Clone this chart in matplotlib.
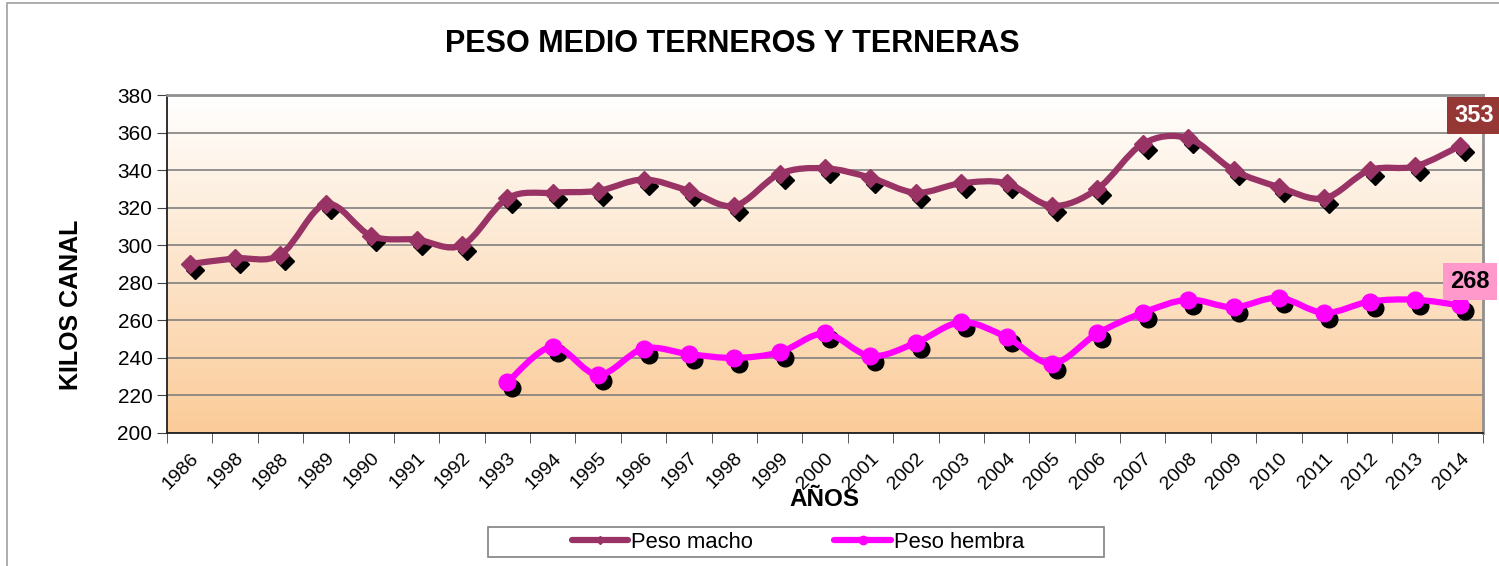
import matplotlib
matplotlib.use("Agg")
import matplotlib.pyplot as plt
import numpy as np
from matplotlib.path import Path
from matplotlib.patches import PathPatch, Rectangle
from matplotlib.lines import Line2D
from matplotlib.transforms import ScaledTranslation

plt.rcParams['font.family'] = ['Liberation Sans', 'DejaVu Sans']

# data (1987 is labelled "1998" in the original)
years = ["1986", "1998", "1988", "1989", "1990", "1991", "1992", "1993", "1994", "1995",
         "1996", "1997", "1998", "1999", "2000", "2001", "2002", "2003", "2004", "2005",
         "2006", "2007", "2008", "2009", "2010", "2011", "2012", "2013", "2014"]
peso_macho = [290, 293, 295, 322, 305, 303, 300, 325, 328, 329,
              335, 329, 321, 338, 341, 336, 328, 333, 333, 321,
              330, 354, 357, 340, 331, 325, 340, 342, 353]
peso_hembra = [None, None, None, None, None, None, None, 227, 246, 231,
               245, 242, 240, 243, 253, 241, 248, 259, 251, 237,
               253, 264, 271, 267, 272, 264, 270, 271, 268]

macho_color = "#993366"
hembra_color = "#FF00FF"


def smooth_path(xs, ys):
    # excel-like smoothed line: catmull-rom segments as cubic bezier curves
    pts = np.column_stack([xs, ys]).astype(float)
    verts = [pts[0]]
    codes = [Path.MOVETO]
    n = len(pts)
    for i in range(n - 1):
        p0 = pts[i - 1] if i > 0 else pts[i]
        p1 = pts[i]
        p2 = pts[i + 1]
        p3 = pts[i + 2] if i + 2 < n else pts[i + 1]
        c1 = p1 + (p2 - p0) / 6.0
        c2 = p2 - (p3 - p1) / 6.0
        verts += [c1, c2, p2]
        codes += [Path.CURVE4] * 3
    return Path(verts, codes)


W, H = 1499, 566
fig = plt.figure(figsize=(W / 100, H / 100), dpi=100)
ax = fig.add_axes([0.1114, 0.235, 0.878, 0.597])

x = np.arange(len(years))
xh = np.array([i for i, v in enumerate(peso_hembra) if v is not None])
yh = np.array([v for v in peso_hembra if v is not None])

# gradient background of the plot area
grad = np.linspace(0, 1, 256).reshape(-1, 1)
top = np.array([1.0, 1.0, 1.0])
bot = np.array([251, 203, 152]) / 255.0
img = top + (bot - top) * grad[..., None] * np.ones((1, 1, 3))
ax.imshow(img, extent=[0, 1, 0, 1], transform=ax.transAxes, aspect="auto", zorder=0)

ax.set_xlim(-0.5, len(years) - 0.5)
ax.set_ylim(200, 380)
ax.set_yticks(np.arange(200, 381, 20))
ax.yaxis.grid(True, color="#808080", lw=1.2)
ax.set_axisbelow(True)

# lines
ax.add_patch(PathPatch(smooth_path(x, peso_macho), fill=False, edgecolor=macho_color,
                       lw=4.5, capstyle="round", joinstyle="round", zorder=3))
ax.add_patch(PathPatch(smooth_path(xh, yh), fill=False, edgecolor=hembra_color,
                       lw=4.5, capstyle="round", joinstyle="round", zorder=3))

# marker shadows
shadow = ax.transData + ScaledTranslation(0.05, -0.06, fig.dpi_scale_trans)
ax.plot(x, peso_macho, ls="none", marker="D", ms=9.5, color="black", transform=shadow, zorder=2)
ax.plot(xh, yh, ls="none", marker="o", ms=12, color="black", transform=shadow, zorder=2)
ax.plot(x, peso_macho, ls="none", marker="D", ms=9.5, color=macho_color, zorder=4)
ax.plot(xh, yh, ls="none", marker="o", ms=12, color=hembra_color, zorder=4)

# last-value labels
ax.annotate(str(peso_macho[-1]), (x[-1], peso_macho[-1]), xytext=(-4.5, 21.5),
            textcoords="offset points", fontsize=17, fontweight="bold", color="white",
            ha="left", va="center", annotation_clip=False, zorder=6,
            bbox=dict(boxstyle="square,pad=0.3", fc="#953735", ec="none"))
ax.annotate(str(peso_hembra[-1]), (x[-1], peso_hembra[-1]), xytext=(7, 17),
            textcoords="offset points", fontsize=17, fontweight="bold", color="black",
            ha="center", va="center", annotation_clip=False, zorder=6,
            bbox=dict(boxstyle="square,pad=0.3", fc="#FF99CC", ec="none"))

# axes styling
ax.set_xticks(x)
ax.set_xticklabels(years, rotation=45, ha="right", va="top", rotation_mode="anchor", fontsize=14)
ax.set_xticks(np.arange(-0.5, len(years)), minor=True)
ax.tick_params(axis="x", which="major", length=0, pad=12)
ax.tick_params(axis="x", which="minor", length=7, color="#404040")
ax.tick_params(axis="y", labelsize=15, length=7, color="#404040")
for s in ["left", "bottom"]:
    ax.spines[s].set_color("#202020")
    ax.spines[s].set_linewidth(1.3)
for s in ["top", "right"]:
    ax.spines[s].set_color("#909090")
    ax.spines[s].set_linewidth(2)

fig.text(71 / W, 1 - 305 / H, "KILOS CANAL", rotation=90, ha="center", va="center",
         fontsize=18, fontweight="bold")
fig.text(824 / W, 1 - 500 / H, "AÑOS", ha="center", va="center",
         fontsize=17.5, fontweight="bold")
fig.text(732 / W, 1 - 44 / H, "PESO MEDIO TERNEROS Y TERNERAS", ha="center", va="center",
         fontsize=22, fontweight="bold")

handles = [Line2D([], [], color=macho_color, lw=4.5, marker="D", ms=4, solid_capstyle="round"),
           Line2D([], [], color=hembra_color, lw=4.5, marker="o", ms=6, solid_capstyle="round")]
fig.legend(handles, ["Peso macho", "Peso hembra"], loc="center",
           bbox_to_anchor=(798 / W, 1 - 542 / H), ncol=2, fontsize=15.8, frameon=False,
           handlelength=2.57, handletextpad=0.15, columnspacing=3.7, borderpad=0)
fig.patches.append(Rectangle((488 / W, 1 - 557 / H), 616 / W, 30 / H, transform=fig.transFigure,
                             fill=False, ec="#808080", lw=1.2))

# outer chart border
fig.patches.append(Rectangle((0.005, -0.01), 1.2, 1.005, transform=fig.transFigure,
                             fill=False, ec="#a0a0a0", lw=1.2))

fig.savefig("out.png", dpi=100)
